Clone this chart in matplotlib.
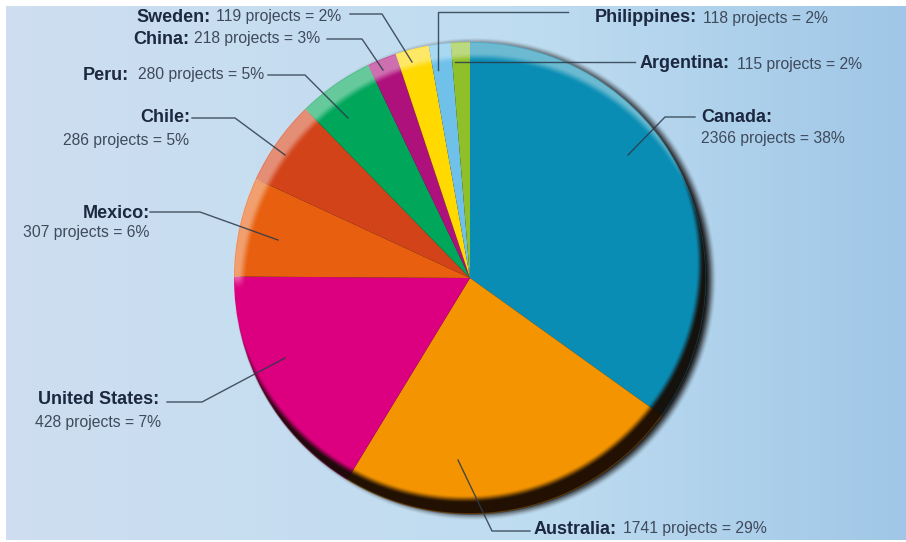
import numpy as np
import matplotlib
matplotlib.use("Agg")
import matplotlib.pyplot as plt

# data
countries = ["Canada", "Australia", "United States", "Mexico", "Chile", "Peru",
             "China", "Sweden", "Philippines", "Argentina"]
drawn_share = [34.9, 23.8, 16.4, 6.8, 5.8, 5.2, 2.0, 2.3, 1.5, 1.3]
projects = [2366, 1741, 428, 307, 286, 280, 218, 119, 118, 115]
percents = [38, 29, 7, 6, 5, 5, 3, 2, 2, 2]
colors = ["#0a8db4", "#f39400", "#dc0080", "#e8600f", "#d3431a", "#00a65a",
          "#ae107c", "#ffd900", "#6fc1ea", "#8fc02a"]

W, H = 906, 542
CX, CY, R = 470, 278, 236
FONT = "Liberation Sans"
NAVY = "#1c2740"
GREY = "#3f4a5c"
LINE = "#2b3a4a"

fig = plt.figure(figsize=(W / 100, H / 100), dpi=100, facecolor="white")
ax = fig.add_axes([0, 0, 1, 1])


def Y(py):
    return H - py


yy, xx = np.mgrid[0:H, 0:W].astype(float) + 0.5


def smooth(d, w):
    t = np.clip(d / w + 0.5, 0, 1)
    return t * t * (3 - 2 * t)


def inside(dx, dy, r=R, w=6.0):
    return smooth(r - np.hypot(xx - CX - dx, yy - CY - dy), w)


def overlay(rgb, alpha, z):
    img = np.zeros((H, W, 4))
    img[..., :3] = np.array(rgb) / 255
    img[..., 3] = alpha
    ax.imshow(img, extent=(0, W, 0, H), origin="upper", zorder=z, aspect="auto",
              interpolation="bilinear")


# background gradient inside a thin white margin
u = xx / W
left = np.array([207, 222, 241])
mid = np.array([190, 220, 240])
right = np.array([160, 199, 231])
t = np.clip(u, 0, 1)[..., None]
bg = np.where(t < 0.6, left + (mid - left) * t / 0.6, mid + (right - mid) * (t - 0.6) / 0.4)
mask = (xx >= 6) & (yy >= 6) & (yy <= 540)
img = np.ones((H, W, 4))
img[..., :3] = bg / 255
img[..., 3] = mask.astype(float)
ax.imshow(img, extent=(0, W, 0, H), origin="upper", zorder=0, aspect="auto")

# soft drop shadow behind the pie
overlay((12, 8, 6), 0.95 * inside(5, 1, w=12), 1)

# pie
ax.pie(drawn_share, colors=colors, startangle=90, counterclock=False,
       center=(CX, Y(CY)), radius=R, frame=True,
       wedgeprops={"linewidth": 0, "zorder": 2})

# bevel: pale rim at upper left, dark rim at lower right
disc = inside(0, 0, w=3)
hi = disc * (1 - inside(8, 15, w=9)) * smooth(282 - yy, 16)
overlay((255, 255, 255), 0.40 * hi, 3)
lo = disc * (1 - inside(-6, -15, w=8))
overlay((22, 10, 4), 0.95 * lo, 3)

# labels: name, detail, leader path (pixel positions)
label_pos = {
    "Canada":        dict(nm=(701, 117), dt=(701, 139)),
    "Australia":     dict(nm=(534, 529), dt=(623, 529)),
    "United States": dict(nm=(38, 400), dt=(35, 422)),
    "Mexico":        dict(nm=(83, 213), dt=(23, 233)),
    "Chile":         dict(nm=(140, 117), dt=(63, 140)),
    "Peru":          dict(nm=(83, 75), dt=(138, 75)),
    "China":         dict(nm=(133, 39), dt=(194, 39)),
    "Sweden":        dict(nm=(136, 17), dt=(216, 17)),
    "Philippines":   dict(nm=(595, 18), dt=(703, 18)),
    "Argentina":     dict(nm=(640, 64), dt=(737, 64)),
}
leaders = {
    "Canada": [(695, 117), (665, 117), (628, 155)],
    "Australia": [(530, 531), (492, 531), (458, 460)],
    "United States": [(167, 402), (202, 402), (285, 358)],
    "Mexico": [(150, 212), (200, 212), (278, 240)],
    "Chile": [(192, 118), (235, 118), (285, 155)],
    "Peru": [(268, 75), (305, 75), (348, 118)],
    "China": [(327, 39), (362, 39), (383, 70)],
    "Sweden": [(350, 14), (382, 14), (412, 62)],
    "Philippines": [(568, 12), (438, 12), (438, 70)],
    "Argentina": [(635, 62), (455, 62)],
}

for name, n, p in zip(countries, projects, percents):
    pos = label_pos[name]
    ax.text(pos["nm"][0], Y(pos["nm"][1]), f"{name}:", family=FONT, fontweight="bold",
            fontsize=13, color=NAVY, va="center", ha="left", zorder=6)
    ax.text(pos["dt"][0], Y(pos["dt"][1]), f"{n} projects = {p}%", family=FONT,
            fontsize=11.3, color=GREY, va="center", ha="left", zorder=6)
    pts = leaders[name]
    ax.plot([q[0] for q in pts], [Y(q[1]) for q in pts], color=LINE, lw=1.0,
            alpha=0.85, zorder=5, solid_joinstyle="round")

ax.set_xlim(0, W)
ax.set_ylim(0, H)
ax.set_aspect("auto")
ax.set_xticks([])
ax.set_yticks([])
ax.set_frame_on(False)

fig.savefig("out.png", dpi=100, facecolor="white")
